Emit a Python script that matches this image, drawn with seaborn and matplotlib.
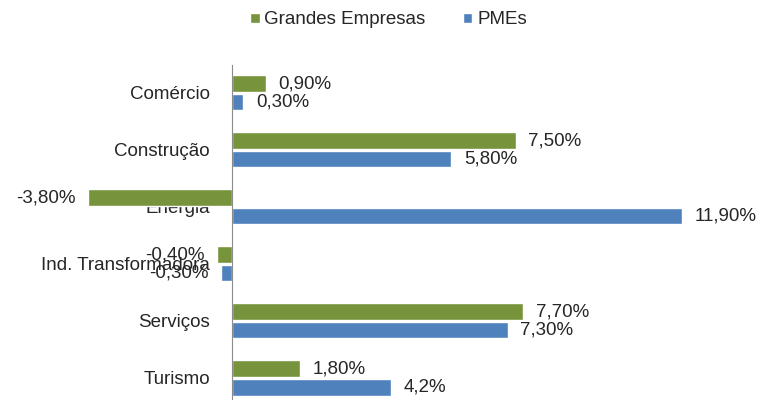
import pandas as pd
import seaborn as sns
import matplotlib.pyplot as plt

# Data (variation in %)
categories = ["Comércio", "Construção", "Energia", "Ind. Transformadora",
              "Serviços", "Turismo"]
grandes = [0.9, 7.5, -3.8, -0.4, 7.7, 1.8]
pmes = [0.3, 5.8, 11.9, -0.3, 7.3, 4.2]
grandes_labels = ["0,90%", "7,50%", "-3,80%", "-0,40%", "7,70%", "1,80%"]
pmes_labels = ["0,30%", "5,80%", "11,90%", "-0,30%", "7,30%", "4,2%"]
series = ["Grandes Empresas", "PMEs"]
colors = ["#77933C", "#4F81BD"]


def build_frame() -> pd.DataFrame:
    """
    Puts the two series into one long table for seaborn.
    """
    rows = []
    for name, values in zip(series, [grandes, pmes]):
        for cat, val in zip(categories, values):
            rows.append({"Setor": cat, "Valor": val, "Tipo": name})
    return pd.DataFrame(rows)


def main():
    sns.set_style("white")
    plt.rcParams["font.family"] = ["Liberation Sans", "DejaVu Sans"]

    df = build_frame()
    fig = plt.figure(figsize=(7.77, 4.0), dpi=100)
    ax = fig.add_axes([0, 0, 1, 1 - 65 / 400])

    sns.barplot(data=df, x="Valor", y="Setor", hue="Tipo", order=categories,
                hue_order=series, palette=colors, orient="h", width=0.64,
                gap=0.08, saturation=1, ax=ax)

    ax.set_xlim(-232 / 37.8, (777 - 232) / 37.8)
    ax.set_ylim(5.386, -0.49)

    # value labels at the bar ends
    for cont, labels in zip(ax.containers, [grandes_labels, pmes_labels]):
        ax.bar_label(cont, labels=labels, padding=9, fontsize=13.5,
                     color="#262626")

    # vertical axis crossing at zero, no x axis
    for side in ["top", "right", "bottom"]:
        ax.spines[side].set_visible(False)
    ax.spines["left"].set_position(("data", 0))
    ax.spines["left"].set_color("#8c8c8c")
    ax.set_xticks([])
    ax.tick_params(axis="y", length=0, pad=16, labelsize=13.5,
                   labelcolor="#262626")
    ax.set_xlabel("")
    ax.set_ylabel("")

    ax.legend(loc="center", bbox_to_anchor=(0.5, 1 - 20 / 400),
              bbox_transform=fig.transFigure, ncol=2, frameon=False,
              fontsize=13.5, handlelength=0.5, handleheight=0.5,
              handletextpad=0.25, columnspacing=2.0, labelcolor="#262626")

    fig.savefig("out.png", dpi=100)


if __name__ == "__main__":
    main()
